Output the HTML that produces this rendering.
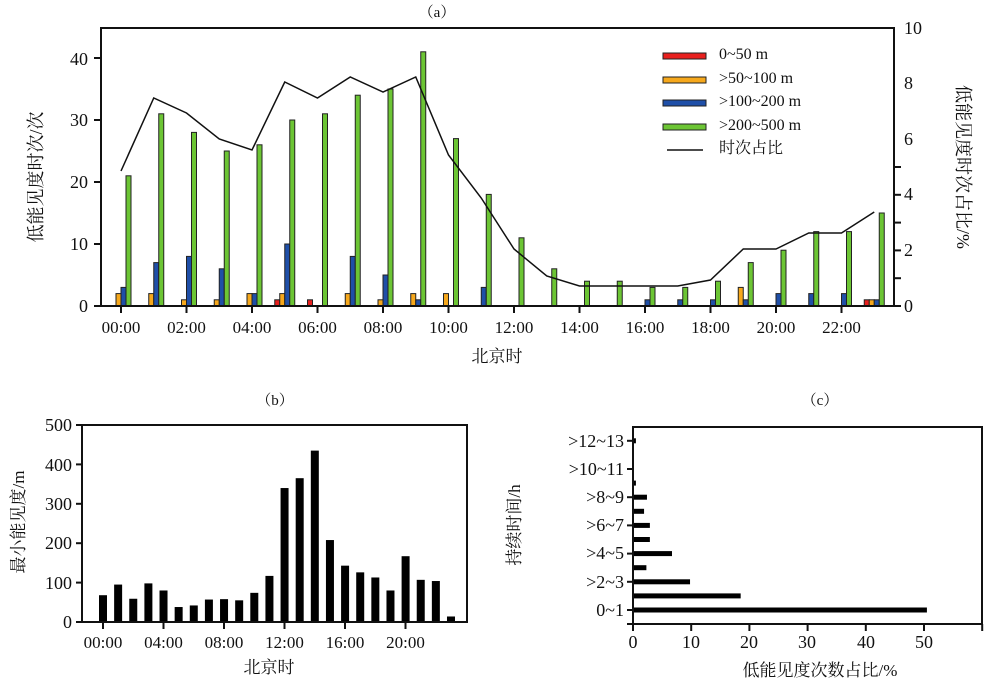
<!DOCTYPE html>
<html><head><meta charset="utf-8"><style>
body{margin:0;background:#fff;}
svg{display:block;font-family:"Liberation Serif","Noto Serif CJK SC",serif;}
text{fill:#111;}
</style></head><body>
<svg id="s" width="1000" height="687" viewBox="0 0 1000 687" xmlns="http://www.w3.org/2000/svg">
<g id="g"></g>
<text x="437" y="17" font-size="15" text-anchor="middle">（a）</text>
<g font-size="18" text-anchor="end">
<text x="88" y="312">0</text><text x="88" y="250">10</text><text x="88" y="188">20</text><text x="88" y="126">30</text><text x="88" y="65">40</text>
</g>
<g font-size="18" text-anchor="start">
<text x="904" y="312">0</text><text x="904" y="256">2</text><text x="904" y="200">4</text><text x="904" y="145">6</text><text x="904" y="89">8</text><text x="904" y="34">10</text>
</g>
<g font-size="17" text-anchor="middle">
<text x="121" y="333">00:00</text><text x="186.5" y="333">02:00</text><text x="252" y="333">04:00</text><text x="317.5" y="333">06:00</text><text x="383" y="333">08:00</text><text x="448.5" y="333">10:00</text><text x="514" y="333">12:00</text><text x="579.5" y="333">14:00</text><text x="645" y="333">16:00</text><text x="710.5" y="333">18:00</text><text x="776" y="333">20:00</text><text x="841.5" y="333">22:00</text>
</g>
<text x="497" y="362" font-size="17" text-anchor="middle">北京时</text>
<text transform="translate(42,177) rotate(-90)" font-size="18" text-anchor="middle">低能见度时次/次</text>
<text transform="translate(957,167) rotate(90)" font-size="18" text-anchor="middle">低能见度时次占比/%</text>
<g font-size="16">
<text x="719" y="59">0~50 m</text><text x="719" y="83">&gt;50~100 m</text><text x="719" y="106">&gt;100~200 m</text><text x="719" y="130">&gt;200~500 m</text><text x="719" y="153">时次占比</text>
</g>
<text x="275" y="405" font-size="15" text-anchor="middle">（b）</text>
<g font-size="18" text-anchor="end">
<text x="72" y="628">0</text><text x="72" y="589">100</text><text x="72" y="549">200</text><text x="72" y="510">300</text><text x="72" y="471">400</text><text x="72" y="431">500</text>
</g>
<g font-size="17" text-anchor="middle">
<text x="103" y="648">00:00</text><text x="163.5" y="648">04:00</text><text x="224" y="648">08:00</text><text x="284.5" y="648">12:00</text><text x="345" y="648">16:00</text><text x="405.5" y="648">20:00</text>
</g>
<text x="269" y="673" font-size="17" text-anchor="middle">北京时</text>
<text transform="translate(24,522) rotate(-90)" font-size="17" text-anchor="middle">最小能见度/m</text>
<text x="820" y="405" font-size="15" text-anchor="middle">（c）</text>
<g font-size="18" text-anchor="end">
<text x="624" y="616">0~1</text><text x="624" y="588">&gt;2~3</text><text x="624" y="559">&gt;4~5</text><text x="624" y="531">&gt;6~7</text><text x="624" y="503">&gt;8~9</text><text x="624" y="475">&gt;10~11</text><text x="624" y="447">&gt;12~13</text>
</g>
<g font-size="18" text-anchor="middle">
<text x="633" y="648">0</text><text x="691" y="648">10</text><text x="749" y="648">20</text><text x="807" y="648">30</text><text x="866" y="648">40</text><text x="924" y="648">50</text>
</g>
<text x="820" y="676" font-size="17" text-anchor="middle">低能见度次数占比/%</text>
<text transform="translate(520,525) rotate(-90)" font-size="17" text-anchor="middle">持续时间/h</text>
</svg>
<script>
var g=document.getElementById('g'),NS='http://www.w3.org/2000/svg';
function el(t,a){var e=document.createElementNS(NS,t);for(var k in a)e.setAttribute(k,a[k]);g.appendChild(e);return e;}
function R(x,y,w,h,f,s){el('rect',{x:x,y:y,width:w,height:h,fill:f,stroke:s||'none','stroke-width':1});}
function L(x1,y1,x2,y2,w){el('line',{x1:x1,y1:y1,x2:x2,y2:y2,stroke:'#111','stroke-width':w||2});}
var A=[[0,2,3,21],[0,2,7,31],[0,1,8,28],[0,1,6,25],[0,2,2,26],[1,2,10,30],[1,0,0,31],[0,2,8,34],[0,1,5,35],[0,2,1,41],[0,2,0,27],[0,0,3,18],[0,0,0,11],[0,0,0,6],[0,0,0,4],[0,0,0,4],[0,0,1,3],[0,0,1,3],[0,0,1,4],[0,3,1,7],[0,0,2,9],[0,0,2,12],[0,0,2,12],[1,1,1,15]];
var C=['#e8201e','#f6a81c','#1f4fa8','#6cc534'];
for(var h=0;h<24;h++){var cx=121+h*32.75;for(var k=0;k<4;k++){var v=A[h][k];if(!v)continue;var hh=v*6.2;R(cx-10+k*5,306-hh,5,hh,C[k],'#222');}}
var LY=[171,98,113,139,150,82,98,77,92,77,155,198,249,276,286,286,286,286,280,249,249,233,233,212];
el('polyline',{points:LY.map(function(y,i){return (121+i*32.75)+','+y}).join(' '),fill:'none',stroke:'#111','stroke-width':1.5});
el('rect',{x:101,y:28,width:793,height:278,fill:'none',stroke:'#111','stroke-width':2});
[0,10,20,30,40].forEach(function(v){var y=306-v*6.2;L(94,y,101,y);});
for(var i=0;i<=5;i++){var y=306-i*27.8;L(894,y,901,y);}
for(var i=0;i<12;i++){var x=121+i*65.5;L(x,306,x,313);}
var LG=[56,80,103,127];for(var k=0;k<4;k++)R(663,LG[k]-3,43,6,C[k],'#222');
L(667,150,703,150,1.5);
var B=[68,95,59,98,80,38,42,57,58,55,74,117,340,365,435,208,143,126,113,80,167,107,104,14];
B.forEach(function(v,i){var x=103+i*15.13;R(x-4,622-v*0.394,8,v*0.394,'#000');});
el('rect',{x:82,y:425,width:385,height:197,fill:'none',stroke:'#111','stroke-width':2});
for(var i=0;i<=5;i++){var y=622-i*39.4;L(76,y,82,y);}
for(var i=0;i<6;i++){var x=103+i*60.5;L(x,622,x,629);}
var Cv=[50.5,18.5,9.8,2.3,6.7,2.9,2.9,1.9,2.4,0.5,0,0,0.5];
Cv.forEach(function(v,i){var y=610-i*14.1;if(v>0)R(633,y-2.5,v*5.82,5,'#000');});
el('rect',{x:633,y:427,width:349,height:197,fill:'none',stroke:'#111','stroke-width':2});
for(var i=0;i<7;i++){var y=610-i*28.2;L(627,y,633,y);}
L(627,624,633,624);
for(var i=0;i<=6;i++){var x=633+i*58.2;L(x,624,x,631);}
</script>
</body></html>
